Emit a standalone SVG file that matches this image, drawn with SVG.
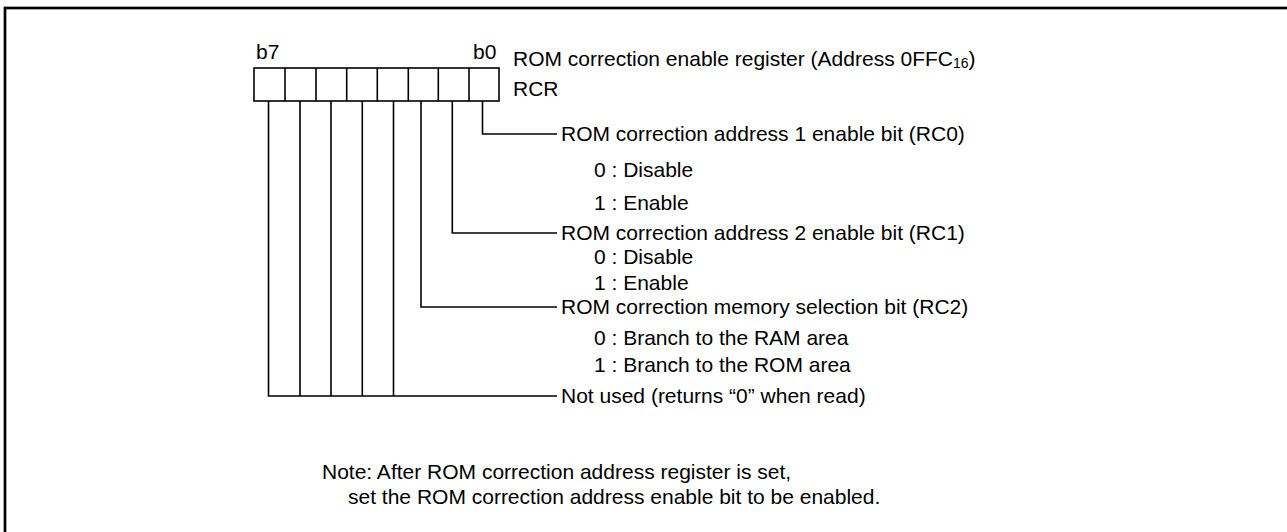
<svg xmlns="http://www.w3.org/2000/svg" width="1287" height="532" viewBox="0 0 1287 532">
<style>
text{font-family:"Liberation Sans",Arial,sans-serif;font-size:21px;fill:#000}
.ln{fill:none;stroke:#000;stroke-width:1.6}
.cell{fill:#fff;stroke:#000;stroke-width:1.6}
</style>
<rect x="0" y="0" width="1287" height="532" fill="#fff"/>
<rect x="5" y="8" width="1300" height="540" fill="none" stroke="#000" stroke-width="2.7"/>
<g id="register">
<rect class="cell" x="254" y="68" width="245" height="33"/>
<path class="ln" d="M285 68V101M316 68V101M346.7 68V101M377.3 68V101M408.3 68V101M438.3 68V101M469 68V101"/>
<text x="256" y="59">b7</text>
<text x="473" y="59">b0</text>
<text x="513" y="66">ROM correction enable register (Address 0FFC<tspan font-size="14" dy="2">16</tspan><tspan dy="-2">)</tspan></text>
<text x="513" y="96">RCR</text>
</g>
<g id="connectors">
<path class="ln" d="M482.5 101V134H557"/>
<path class="ln" d="M452.3 101V233H557"/>
<path class="ln" d="M421 101V307H557"/>
<path class="ln" d="M268.5 101V396H557M300 101V396M331 101V396M362.3 101V396M393.5 101V396"/>
</g>
<g id="rc0">
<text x="561" y="141">ROM correction address 1 enable bit (RC0)</text>
<text x="594" y="177">0 : Disable</text>
<text x="594" y="210">1 : Enable</text>
</g>
<g id="rc1">
<text x="561" y="240">ROM correction address 2 enable bit (RC1)</text>
<text x="594" y="264">0 : Disable</text>
<text x="594" y="290">1 : Enable</text>
</g>
<g id="rc2">
<text x="561" y="314">ROM correction memory selection bit (RC2)</text>
<text x="594" y="345">0 : Branch to the RAM area</text>
<text x="594" y="372">1 : Branch to the ROM area</text>
</g>
<g id="unused">
<text x="561" y="403">Not used (returns “0” when read)</text>
</g>
<g id="note">
<text x="322" y="479">Note: After ROM correction address register is set,</text>
<text x="348" y="504">set the ROM correction address enable bit to be enabled.</text>
</g>
</svg>
